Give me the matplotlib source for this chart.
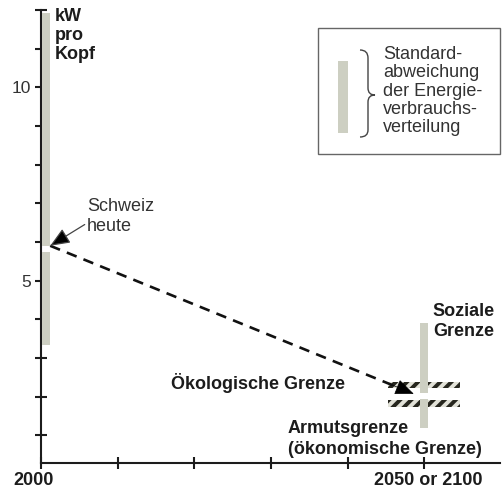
import matplotlib
matplotlib.use('Agg')
import matplotlib.pyplot as plt
from matplotlib.patches import Rectangle, PathPatch
from matplotlib.path import Path

plt.rcParams['font.family'] = ['Liberation Sans', 'DejaVu Sans']
plt.rcParams['hatch.linewidth'] = 2.8

# ---------------- data ----------------
bar_years = [2000.65, 2049.95]        # position of the standard-deviation bars
sd_low = [3.34, 1.18]                 # lower end of spread (kW per head)
sd_high = [11.92, 3.89]               # upper end of spread
sd_mean = [5.81, 2.015]               # mean (gap in bar)

trend_years = [2001.2, 2048.6]        # dashed path: Schweiz heute -> target
trend_kw = [5.90, 2.07]

limit_low = [2.21, 1.72]              # hatched limits: Ökologische Grenze, Armutsgrenze
limit_high = [2.38, 1.90]
limit_start = [2045.2, 2045.2]
limit_end = [2054.6, 2054.6]

y_ticks = list(range(1, 13))
y_tick_labels = ['' if v not in (5, 10) else str(v) for v in y_ticks]
x_ticks = [2000, 2010, 2020, 2030, 2040, 2050]
x_label_years = [2000, 2050]
x_label_texts = ['2000', '2050 or 2100']

# ---------------- style ----------------
W, H = 504, 491
BAR_C = '#cdcfc2'
INK = '#1c1c1c'
FS = 13

fig = plt.figure(figsize=(W / 100, H / 100), dpi=100)
ax = fig.add_axes([41 / W, 1 - 463 / H, (500 - 41) / W, (463 - 10) / H])
ax.set_xlim(2000, 2059.85)
ax.set_ylim(0.28, 12.0)

for s in ('top', 'right'):
    ax.spines[s].set_visible(False)
for s in ('left', 'bottom'):
    ax.spines[s].set_linewidth(1.5)
    ax.spines[s].set_color(INK)

ax.set_yticks(y_ticks)
ax.set_yticklabels(y_tick_labels, fontsize=12.5, color='#333333')
ax.set_xticks(x_ticks)
ax.set_xticklabels([''] * len(x_ticks))
ax.tick_params(axis='both', direction='inout', length=9, width=1.5, color=INK, pad=3)

# standard deviation bars (with a small gap at the mean)
gap = 0.08
bw = 1.05
for x, lo, hi, m in zip(bar_years, sd_low, sd_high, sd_mean):
    ax.bar(x, (m - gap) - lo, bottom=lo, width=bw, color=BAR_C, linewidth=0, zorder=4)
    ax.bar(x, hi - (m + gap), bottom=m + gap, width=bw, color=BAR_C, linewidth=0, zorder=4)

# hatched limit bars
for lo, hi, s, e in zip(limit_low, limit_high, limit_start, limit_end):
    ax.bar((s + e) / 2, hi - lo, bottom=lo, width=e - s, facecolor='#e2e2d8',
           edgecolor='#26261e', hatch='///', linewidth=0, zorder=3)

# dashed trend line
ax.plot(trend_years, trend_kw, color='#111111', lw=1.9, ls=(0, (4.0, 2.8)),
        solid_capstyle='butt', dash_capstyle='butt', zorder=5)
bx = trend_years[1] - 0.06 * (trend_years[1] - trend_years[0])
by = trend_kw[1] - 0.06 * (trend_kw[1] - trend_kw[0])
ax.annotate('', xy=(trend_years[1], trend_kw[1]), xytext=(bx, by),
            arrowprops=dict(arrowstyle='-|>,head_length=0.6,head_width=0.25',
                            mutation_scale=20, color='black', lw=0.5,
                            shrinkA=0, shrinkB=0), zorder=6)

# Schweiz heute
ax.text(2006.0, 6.65, 'Schweiz\nheute', fontsize=FS, color='#333333',
        ha='left', va='center', linespacing=1.2)
ax.annotate('', xy=(trend_years[0], trend_kw[0]), xytext=(2005.7, 6.45),
            arrowprops=dict(arrowstyle='-|>,head_length=0.6,head_width=0.25',
                            mutation_scale=20, color='#444444', fc='black', lw=0.9,
                            shrinkA=0, shrinkB=0), zorder=6)

# labels
ax.text(2001.8, 12.05, 'kW\npro\nKopf', fontsize=FS, fontweight='bold', color=INK,
        ha='left', va='top', linespacing=1.15)
ax.text(2039.6, 2.34, 'Ökologische Grenze', fontsize=FS, fontweight='bold', color=INK,
        ha='right', va='center')
ax.text(2032.2, 0.9, 'Armutsgrenze\n(ökonomische Grenze)', fontsize=FS, fontweight='bold',
        color=INK, ha='left', va='center', linespacing=1.25)
ax.text(2051.1, 3.94, 'Soziale\nGrenze', fontsize=FS, fontweight='bold', color=INK,
        ha='left', va='center', linespacing=1.2)
for yr, t in zip(x_label_years, x_label_texts):
    ax.text(yr + (-1.0 if yr == 2000 else 0.5), -0.17, t, fontsize=FS, fontweight='bold',
            color=INK, ha='center', va='center', clip_on=False)

# legend box (overlay in pixel coordinates)
ov = fig.add_axes([0, 0, 1, 1], zorder=10)
ov.set_xlim(0, W)
ov.set_ylim(H, 0)
ov.axis('off')
ov.add_patch(Rectangle((318, 28), 182, 126, facecolor='white', edgecolor='#666666', lw=1.0))
ov.add_patch(Rectangle((338, 61), 10, 72, facecolor=BAR_C, edgecolor='none'))
verts = [(360, 50), (368, 50), (368, 58),
         (368, 88),
         (368, 95), (375, 95),
         (368, 95), (368, 102),
         (368, 130),
         (368, 137), (360, 137)]
codes = [Path.MOVETO, Path.CURVE3, Path.CURVE3,
         Path.LINETO,
         Path.CURVE3, Path.CURVE3,
         Path.CURVE3, Path.CURVE3,
         Path.LINETO,
         Path.CURVE3, Path.CURVE3]
ov.add_patch(PathPatch(Path(verts, codes), facecolor='none', edgecolor='#444444', lw=1.0))
ov.text(383, 91, 'Standard-\nabweichung\nder Energie-\nverbrauchs-\nverteilung',
        fontsize=FS, color='#333333', ha='left', va='center', linespacing=1.1)

fig.savefig('out.png', dpi=100)
